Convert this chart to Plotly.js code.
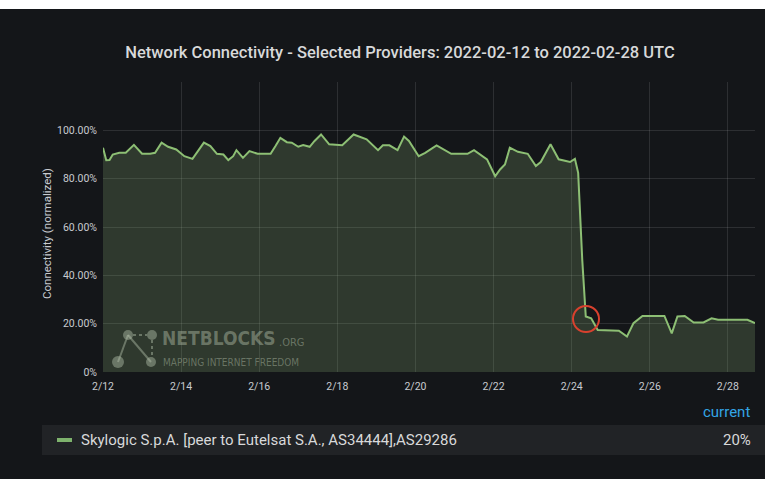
<!DOCTYPE html>
<html>
<head>
<meta charset="utf-8">
<script src="https://cdn.plot.ly/plotly-3.0.1.min.js"></script>
<style>
  html, body { margin: 0; padding: 0; background: #ffffff; width: 765px; height: 479px; overflow: hidden; }
  #chart { position: absolute; left: 0; top: 9px; width: 765px; height: 470px; }
</style>
</head>
<body>
<div id="chart"></div>
<script>
// ---- data ----
const times = [
  '2022-02-12 00:00','2022-02-12 02:00','2022-02-12 04:00','2022-02-12 06:00','2022-02-12 10:00',
  '2022-02-12 14:00','2022-02-12 19:00','2022-02-13 00:00','2022-02-13 05:00','2022-02-13 08:00',
  '2022-02-13 12:00','2022-02-13 16:00','2022-02-13 21:00','2022-02-14 02:00','2022-02-14 07:00',
  '2022-02-14 11:00','2022-02-14 14:00','2022-02-14 18:00','2022-02-14 22:00','2022-02-15 02:00',
  '2022-02-15 05:00','2022-02-15 08:00','2022-02-15 10:00','2022-02-15 14:00','2022-02-15 18:00',
  '2022-02-15 23:00','2022-02-16 07:00','2022-02-16 10:00','2022-02-16 13:00','2022-02-16 17:00',
  '2022-02-16 20:00','2022-02-17 00:00','2022-02-17 03:00','2022-02-17 07:00','2022-02-17 10:00',
  '2022-02-17 14:00','2022-02-17 19:00','2022-02-18 03:00','2022-02-18 10:00','2022-02-18 18:00',
  '2022-02-19 01:00','2022-02-19 04:00','2022-02-19 08:00','2022-02-19 13:00','2022-02-19 17:00',
  '2022-02-19 20:00','2022-02-20 02:00','2022-02-20 06:00','2022-02-20 13:00','2022-02-20 22:00',
  '2022-02-21 08:00','2022-02-21 12:00','2022-02-21 16:00','2022-02-21 20:00','2022-02-22 01:00',
  '2022-02-22 04:00','2022-02-22 07:00','2022-02-22 10:00','2022-02-22 15:00','2022-02-22 21:00',
  '2022-02-23 02:00','2022-02-23 05:00','2022-02-23 11:00','2022-02-23 16:00','2022-02-23 23:00',
  '2022-02-24 02:00','2022-02-24 04:00','2022-02-24 06:30','2022-02-24 08:40','2022-02-24 12:00',
  '2022-02-24 16:00','2022-02-25 05:00','2022-02-25 10:00','2022-02-25 14:00','2022-02-25 19:30',
  '2022-02-26 09:00','2022-02-26 13:30','2022-02-26 17:00','2022-02-26 21:30','2022-02-27 03:00',
  '2022-02-27 09:00','2022-02-27 14:00','2022-02-27 18:00','2022-02-28 12:00','2022-02-28 16:40'
];
const connectivity = [
  92.8, 87.6, 87.7, 90.0, 90.7,
  90.7, 94.0, 90.3, 90.3, 90.7,
  94.9, 93.2, 92.1, 89.3, 88.2,
  92.1, 94.9, 93.5, 90.3, 90.0,
  87.7, 89.3, 91.8, 88.6, 91.4,
  90.3, 90.3, 93.5, 96.9, 95.1,
  94.9, 93.2, 93.9, 93.2, 95.6,
  98.3, 94.2, 93.8, 98.3, 96.3,
  91.8, 93.8, 93.8, 91.8, 97.4,
  95.6, 89.3, 90.7, 93.8, 90.3,
  90.3, 91.8, 90.0, 88.0, 81.0,
  83.8, 85.9, 92.8, 91.1, 90.3,
  85.2, 86.9, 94.2, 88.0, 86.9,
  88.2, 82.4, 46.5, 23.0, 22.2,
  17.4, 17.1, 14.7, 20.2, 23.2,
  23.2, 16.0, 23.0, 23.2, 20.5,
  20.5, 22.2, 21.6, 21.6, 20.2
];
const seriesName = 'Skylogic S.p.A. [peer to Eutelsat S.A., AS34444],AS29286';
const currentLabel = '20%';
const xTickVals = ['2022-02-12','2022-02-14','2022-02-16','2022-02-18','2022-02-20','2022-02-22','2022-02-24','2022-02-26','2022-02-28'];
const xTickText = ['2/12','2/14','2/16','2/18','2/20','2/22','2/24','2/26','2/28'];
const yTickVals = [0, 20, 40, 60, 80, 100, 120];
const yTickText = ['0%', '20.00%', '40.00%', '60.00%', '80.00%', '100.00%', ''];
const titleText = 'Network Connectivity - Selected Providers: 2022-02-12 to 2022-02-28 UTC';
const yTitle = 'Connectivity (normalized)';

// ---- layout helpers (page pixel -> paper coords) ----
const PL = 103, PR = 755, PT = 82, PB = 372;
const px = x => (x - PL) / (PR - PL);
const py = y => (PB - y) / (PB - PT);

const BG = '#141619';
const TXT = '#c8cbd0';
const WM = 'rgba(180,192,170,0.45)';
const wmFont = '"DejaVu Sans Condensed", "Liberation Sans", Roboto, sans-serif';

const trace = {
  x: times, y: connectivity, type: 'scatter', mode: 'lines',
  line: { color: '#8dbf74', width: 2, shape: 'linear' },
  fill: 'tozeroy', fillcolor: 'rgba(140,176,118,0.23)',
  hoverinfo: 'skip', showlegend: false
};

const shapes = [
  // legend band
  { type: 'rect', xref: 'paper', yref: 'paper', x0: px(42), x1: px(765), y0: py(455), y1: py(425),
    fillcolor: '#212326', line: { width: 0 }, layer: 'below' },
  // legend marker
  { type: 'line', xref: 'paper', yref: 'paper', x0: px(57), x1: px(72), y0: py(440), y1: py(440),
    line: { color: '#7eb26d', width: 4 } },
  // red highlight circle
  { type: 'circle', xref: 'paper', yref: 'paper', x0: px(573), x1: px(599), y0: py(332), y1: py(306),
    line: { color: '#d8412e', width: 2 } },
  // watermark logo lines
  { type: 'line', xref: 'paper', yref: 'paper', x0: px(128), x1: px(118), y0: py(335), y1: py(362), line: { color: WM, width: 2 } },
  { type: 'line', xref: 'paper', yref: 'paper', x0: px(128), x1: px(151), y0: py(335), y1: py(362), line: { color: WM, width: 2 } },
  { type: 'line', xref: 'paper', yref: 'paper', x0: px(133), x1: px(147), y0: py(335), y1: py(335), line: { color: WM, width: 2, dash: 'dot' } },
  { type: 'line', xref: 'paper', yref: 'paper', x0: px(152), x1: px(152), y0: py(340), y1: py(356), line: { color: WM, width: 2, dash: 'dot' } },
  // watermark logo dots
  { type: 'circle', xref: 'paper', yref: 'paper', x0: px(123), x1: px(133), y0: py(340), y1: py(330), fillcolor: WM, line: { width: 0 } },
  { type: 'circle', xref: 'paper', yref: 'paper', x0: px(147), x1: px(157), y0: py(340), y1: py(330), fillcolor: WM, line: { width: 0 } },
  { type: 'circle', xref: 'paper', yref: 'paper', x0: px(112), x1: px(124), y0: py(368), y1: py(356), fillcolor: WM, line: { width: 0 } },
  { type: 'circle', xref: 'paper', yref: 'paper', x0: px(146), x1: px(156), y0: py(367), y1: py(357), fillcolor: WM, line: { width: 0 } }
];

const annotations = [
  { text: yTitle, xref: 'paper', yref: 'paper', x: px(47), y: py(234), textangle: -90, showarrow: false,
    font: { family: 'Roboto, sans-serif', size: 11.5, color: TXT }, xanchor: 'center', yanchor: 'middle' },
  { text: 'current', xref: 'paper', yref: 'paper', x: px(752), y: py(412), showarrow: false,
    font: { family: 'Roboto, sans-serif', size: 15, color: '#33a5e6' }, xanchor: 'right', yanchor: 'middle' },
  { text: seriesName, xref: 'paper', yref: 'paper', x: px(79), y: py(440), showarrow: false,
    font: { family: 'Roboto, sans-serif', size: 15, color: '#d8d9da' }, xanchor: 'left', yanchor: 'middle' },
  { text: currentLabel, xref: 'paper', yref: 'paper', x: px(753), y: py(440), showarrow: false,
    font: { family: 'Roboto, sans-serif', size: 15, color: '#d8d9da' }, xanchor: 'right', yanchor: 'middle' },
  // watermark text
  { text: '<b>NETBLOCKS</b>', xref: 'paper', yref: 'paper', x: px(160), y: py(338), showarrow: false,
    font: { family: wmFont, size: 19, color: WM }, xanchor: 'left', yanchor: 'middle' },
  { text: '.ORG', xref: 'paper', yref: 'paper', x: px(277), y: py(342), showarrow: false,
    font: { family: wmFont, size: 11, color: WM }, xanchor: 'left', yanchor: 'middle' },
  { text: 'MAPPING INTERNET FREEDOM', xref: 'paper', yref: 'paper', x: px(161), y: py(362), showarrow: false,
    font: { family: wmFont, size: 10, color: WM }, xanchor: 'left', yanchor: 'middle' }
];

const layout = {
  width: 765, height: 470,
  paper_bgcolor: BG, plot_bgcolor: BG,
  margin: { l: 103, r: 10, t: 73, b: 107, pad: 0 },
  title: { text: titleText, x: 400 / 765, xanchor: 'center', xref: 'container',
           y: 1 - 43 / 470, yanchor: 'middle', yref: 'container',
           font: { family: 'Roboto, sans-serif', size: 16.5, color: '#d8d9da', weight: 500 } },
  xaxis: {
    type: 'date', range: ['2022-02-12 00:00', '2022-02-28 16:40'],
    tickmode: 'array', tickvals: xTickVals, ticktext: xTickText,
    showgrid: true, gridcolor: 'rgba(255,255,255,0.11)', gridwidth: 1,
    zeroline: false, showline: false, ticks: '', ticklabelstandoff: 6,
    tickfont: { family: 'Roboto, sans-serif', size: 10.5, color: TXT }
  },
  yaxis: {
    range: [0, 120], tickmode: 'array', tickvals: yTickVals, ticktext: yTickText,
    showgrid: true, gridcolor: 'rgba(255,255,255,0.11)', gridwidth: 1,
    zeroline: false, showline: false, ticks: '', ticklabelstandoff: 5,
    tickfont: { family: 'Roboto, sans-serif', size: 10.5, color: TXT }
  },
  shapes: shapes,
  annotations: annotations,
  showlegend: false
};

Plotly.newPlot('chart', [trace], layout, { staticPlot: true, displayModeBar: false });
</script>
</body>
</html>
